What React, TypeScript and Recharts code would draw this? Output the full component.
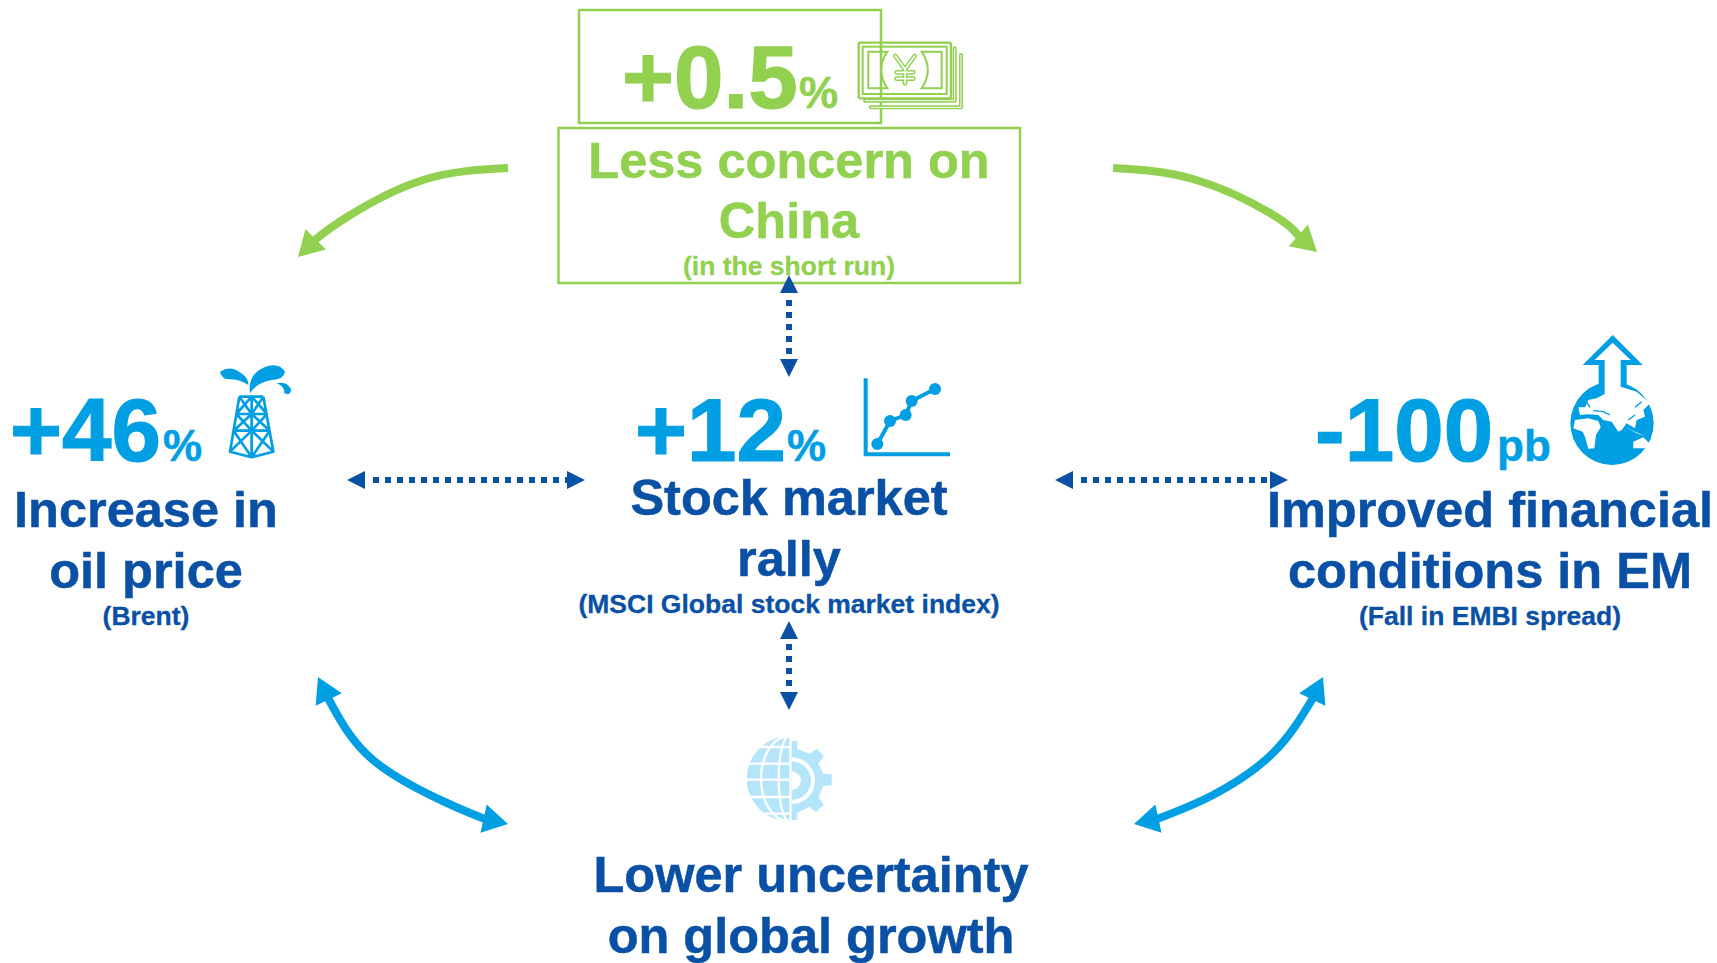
import { ComposedChart, Line, ReferenceArea, Scatter, XAxis, YAxis } from 'recharts'

const WIDTH = 1717
const HEIGHT = 963

const GREEN = '#92d050'
const SKY = '#009fe3'
const NAVY = '#0a50a5'
const PALE = '#b5e5fa'
const FONT = '"Liberation Sans", Arial, sans-serif'

const figures = [
  { text: '+0.5', x: 622, y: 108, tone: GREEN },
  { text: '+46', x: 10, y: 461, tone: SKY },
  { text: '+12', x: 635, y: 461, tone: SKY },
  { text: '-100', x: 1315, y: 461, tone: SKY },
]

const units = [
  { text: '%', x: 799, y: 108, tone: GREEN },
  { text: '%', x: 163, y: 461, tone: SKY },
  { text: '%', x: 787, y: 461, tone: SKY },
  { text: 'pb', x: 1497, y: 461, tone: SKY },
]

const titles = [
  { text: 'Less concern on', x: 789, y: 178, tone: GREEN },
  { text: 'China', x: 789, y: 238, tone: GREEN },
  { text: 'Increase in', x: 146, y: 527, tone: NAVY },
  { text: 'oil price', x: 146, y: 588, tone: NAVY },
  { text: 'Stock market', x: 789, y: 515, tone: NAVY },
  { text: 'rally', x: 789, y: 576, tone: NAVY },
  { text: 'Improved financial', x: 1490, y: 527, tone: NAVY },
  { text: 'conditions in EM', x: 1490, y: 588, tone: NAVY },
  { text: 'Lower uncertainty', x: 811, y: 892, tone: NAVY },
  { text: 'on global growth', x: 811, y: 953, tone: NAVY },
]

const notes = [
  { text: '(in the short run)', x: 789, y: 275, tone: GREEN },
  { text: '(Brent)', x: 146, y: 625, tone: NAVY },
  { text: '(MSCI Global stock market index)', x: 789, y: 613, tone: NAVY },
  { text: '(Fall in EMBI spread)', x: 1490, y: 625, tone: NAVY },
]

const icons = [
  { name: 'yen', x: 840, y: 30 },
  { name: 'oil', x: 0, y: 340 },
  { name: 'stock', x: 570, y: 360 },
  { name: 'globe', x: 1260, y: 320 },
  { name: 'gear', x: 700, y: 722 },
]

const boxes = [
  { x1: 579, x2: 881, y1: 10, y2: 123 },
  { x1: 558.5, x2: 1020, y1: 128, y2: 283 },
]

const stockPoints = [
  [922, 252],
  [960, 183],
  [1007, 165],
  [1025, 123],
  [1095, 87],
]

const greenLeft = [
  { x: 508, y: 168 },
  { x: 423, y: 180 },
  { x: 347, y: 217 },
  { x: 315, y: 240, tipX: 298, tipY: 257 },
]
const greenRight = [
  { x: 1113, y: 168 },
  { x: 1193, y: 179 },
  { x: 1270, y: 213 },
  { x: 1299, y: 236, tipX: 1317, tipY: 252 },
]
const blueLeft = [
  { x: 328, y: 698, tipX: 318, tipY: 677 },
  { x: 373, y: 760 },
  { x: 447, y: 803 },
  { x: 485, y: 819, tipX: 508, tipY: 824 },
]
const blueRight = [
  { x: 1313, y: 698, tipX: 1323, tipY: 677 },
  { x: 1273, y: 753 },
  { x: 1213, y: 795 },
  { x: 1157, y: 819, tipX: 1134, tipY: 824 },
]

const dottedLeft = [
  { x: 373, y: 480, tipX: 347, tipY: 480 },
  { x: 567, y: 480, tipX: 585, tipY: 480 },
]
const dottedRight = [
  { x: 1081, y: 480, tipX: 1055, tipY: 480 },
  { x: 1270, y: 480, tipX: 1288, tipY: 480 },
]
const dottedTop = [
  { x: 789, y: 300, tipX: 789, tipY: 275 },
  { x: 789, y: 360, tipX: 789, tipY: 377 },
]
const dottedBottom = [
  { x: 789, y: 644, tipX: 789, tipY: 621 },
  { x: 789, y: 693, tipX: 789, tipY: 710 },
]

function textShape(size: number, anchor: string, weight: number) {
  return (props: any) => (
    <text
      x={props.cx}
      y={props.cy}
      fontFamily={FONT}
      fontWeight="bold"
      fontSize={size}
      textAnchor={anchor}
      fill={props.payload.tone}
      stroke={props.payload.tone}
      strokeWidth={weight}
    >
      {props.payload.text}
    </text>
  )
}

function arrowHead(color: string, length: number, width: number) {
  return (props: any) => {
    const { cx, cy, index, payload } = props
    if (payload.tipX === undefined) return <g key={index} />
    const dx = payload.tipX - payload.x
    const dy = payload.tipY - payload.y
    const d = Math.hypot(dx, dy)
    const ux = dx / d
    const uy = dy / d
    const tx = cx + dx
    const ty = cy + dy
    const bx = tx - ux * length
    const by = ty - uy * length
    const hw = width / 2
    return (
      <polygon
        key={index}
        points={`${tx},${ty} ${bx - uy * hw},${by + ux * hw} ${bx + uy * hw},${by - ux * hw}`}
        fill={color}
      />
    )
  }
}

// icons are drawn in the 3x units of the crops they were measured on
function YenIcon() {
  return (
    <g fill="none" stroke={GREEN}>
      <rect x={56} y={38} width={277} height={167} rx={6} strokeWidth={7} />
      <rect x={68} y={50} width={252} height={142} strokeWidth={6} />
      <path d="M85,65 H142 Q105,120 142,175 H85 Z" strokeWidth={6} />
      <path d="M305,65 H245 Q282,120 245,175 H305 Z" strokeWidth={6} />
      <path d="M344,55 V212 H75" strokeWidth={12} strokeLinejoin="round" strokeLinecap="round" />
      <path d="M344,55 V212 H75" strokeWidth={3} stroke="#fff" />
      <path d="M363,75 V232 H92" strokeWidth={12} strokeLinejoin="round" strokeLinecap="round" />
      <path d="M363,75 V232 H92" strokeWidth={3} stroke="#fff" />
      <path d="M166,78 L195,118 L224,78 M195,118 V160 M170,127 H220 M170,146 H220" strokeWidth={14} strokeLinecap="round" strokeLinejoin="round" />
      <path d="M166,78 L195,118 L224,78 M195,118 V160 M170,127 H220 M170,146 H220" strokeWidth={5} stroke="#fff" strokeLinecap="round" strokeLinejoin="round" />
    </g>
  )
}

function OilIcon() {
  const lines =
    'M718,170 H790 M709,222 H801 M701,272 H809 ' +
    'M718,170 L690,335 L755,352 L820,335 L790,170 M755,170 V352 ' +
    'M718,170 L755,222 M755,170 L709,222 M755,170 L801,222 M790,170 L755,222 ' +
    'M709,222 L755,272 M755,222 L701,272 M755,222 L809,272 M801,222 L755,272 ' +
    'M701,272 L755,352 M809,272 L755,352 M690,335 L755,272 M820,335 L755,272'
  return (
    <g>
      <path d={lines} fill="none" stroke={SKY} strokeWidth={8} strokeLinejoin="round" />
      <path
        d="M660,95 Q690,74 722,98 Q747,115 745,135 Q720,118 690,118 Q665,118 660,95 Z"
        fill={SKY}
      />
      <path
        d="M750,160 Q742,105 790,83 Q835,64 855,95 Q852,118 815,120 Q770,127 750,160 Z"
        fill={SKY}
      />
      <path d="M830,130 Q862,122 874,150 Q870,168 853,160 Q855,140 830,130 Z" fill={SKY} />
    </g>
  )
}

function StockIcon() {
  return (
    <g>
      <path d="M887,55 V283 H1140" fill="none" stroke={SKY} strokeWidth={12} />
      <polyline
        points={stockPoints.map((p) => p.join(',')).join(' ')}
        fill="none"
        stroke={SKY}
        strokeWidth={12}
      />
      {stockPoints.map((p, i) => (
        <circle key={i} cx={p[0]} cy={p[1]} r={18} fill={SKY} />
      ))}
    </g>
  )
}

function GlobeIcon() {
  return (
    <g>
      <circle cx={1056} cy={310} r={125} fill={SKY} />
      <path
        fill="#fff"
        d="M1082,200 L1130,215 L1170,250 L1150,270 L1155,290 L1130,300 L1125,325 L1100,310 L1085,330 L1075,335 L1055,305 L1030,300 L1015,285 L985,283 L960,285 L955,262 L975,262 L985,240 L1010,235 L1034,222 Z"
      />
      <path
        d="M1000,272 L1030,275 L1050,285 M975,240 L990,262 M1125,262 L1145,245 M1105,300 L1125,285"
        fill="none"
        stroke={SKY}
        strokeWidth={4}
      />
      <path
        fill="#fff"
        d="M945,300 L985,295 L1015,303 L1022,322 L1008,345 L1003,385 L985,386 L975,350 L968,335 L940,325 Z"
      />
      <path fill="#fff" d="M1120,365 L1150,352 L1170,372 L1160,385 L1120,385 Z" />
      <path fill="#fff" d="M1095,320 L1130,340 L1160,350 L1125,335 Z" />
      <path fill={SKY} d="M1058,45 L1148,135 H1100 V200 H1016 V135 H968 Z" />
      <path fill="#fff" d="M1058,68 L1112,120 H1082 V230 H1034 V120 H1004 Z" />
    </g>
  )
}

function GearIcon() {
  return (
    <g>
      <path fill={PALE} d="M268,42 A128,128 0 0 0 268,298 Z" />
      <path
        d="M150,75 H268 M140,125 H268 M135,173 H268 M140,225 H268 M150,275 H268"
        stroke="#fff"
        strokeWidth={7}
        fill="none"
      />
      <path
        d="M268,42 A85,128 0 0 0 268,298 M268,42 A32,128 0 0 0 268,298"
        stroke="#fff"
        strokeWidth={7}
        fill="none"
      />
      <path
        fill={PALE}
        d="M275,57 H292 V82 L330,95 L350,80 L372,103 L355,125 L370,155 L395,157 V190 L370,192 L355,225 L372,248 L348,270 L328,255 L292,272 V295 H275 Z"
      />
      <path d="M275,112 A58,58 0 0 1 275,240" fill="none" stroke="#fff" strokeWidth={12} />
      <path d="M275,148 A28,28 0 0 1 275,204 Z" fill="#fff" />
    </g>
  )
}

const ICON_BY_NAME: Record<string, () => any> = {
  yen: YenIcon,
  oil: OilIcon,
  stock: StockIcon,
  globe: GlobeIcon,
  gear: GearIcon,
}

function iconShape(props: any) {
  const Icon = ICON_BY_NAME[props.payload.name]
  return (
    <g transform={`translate(${props.cx},${props.cy}) scale(${1 / 3})`}>
      <Icon />
    </g>
  )
}

const thickArrows = [
  { id: 'greenLeft', data: greenLeft, color: GREEN },
  { id: 'greenRight', data: greenRight, color: GREEN },
  { id: 'blueLeft', data: blueLeft, color: SKY },
  { id: 'blueRight', data: blueRight, color: SKY },
]

const dottedArrows = [
  { id: 'dottedLeft', data: dottedLeft },
  { id: 'dottedRight', data: dottedRight },
  { id: 'dottedTop', data: dottedTop },
  { id: 'dottedBottom', data: dottedBottom },
]

export default function App() {
  return (
    <div style={{ position: 'absolute', left: 0, top: 0, width: WIDTH, height: HEIGHT, background: '#fff' }}>
      <ComposedChart width={WIDTH} height={HEIGHT} margin={{ top: 0, right: 0, bottom: 0, left: 0 }}>
        <XAxis type="number" dataKey="x" domain={[0, WIDTH]} hide allowDataOverflow />
        <YAxis type="number" dataKey="y" domain={[0, HEIGHT]} reversed hide allowDataOverflow />

        {boxes.map((b, i) => (
          <ReferenceArea
            key={i}
            x1={b.x1}
            x2={b.x2}
            y1={b.y1}
            y2={b.y2}
            fill="none"
            stroke={GREEN}
            strokeWidth={2.5}
            ifOverflow="visible"
          />
        ))}

        {thickArrows.map((a) => (
          <Line
            key={a.id}
            data={a.data}
            dataKey="y"
            type="natural"
            stroke={a.color}
            strokeWidth={8}
            dot={arrowHead(a.color, 25, 29)}
            activeDot={false}
            legendType="none"
            isAnimationActive={false}
          />
        ))}

        {dottedArrows.map((a) => (
          <Line
            key={a.id}
            data={a.data}
            dataKey="y"
            type="linear"
            stroke={NAVY}
            strokeWidth={6}
            strokeDasharray="6 6"
            dot={arrowHead(NAVY, 18, 18)}
            activeDot={false}
            legendType="none"
            isAnimationActive={false}
          />
        ))}

        <Scatter data={icons} shape={iconShape} isAnimationActive={false} />
        <Scatter data={figures} shape={textShape(89, 'start', 1.2)} isAnimationActive={false} />
        <Scatter data={units} shape={textShape(44, 'start', 0.5)} isAnimationActive={false} />
        <Scatter data={titles} shape={textShape(50.5, 'middle', 0.5)} isAnimationActive={false} />
        <Scatter data={notes} shape={textShape(26.5, 'middle', 0.3)} isAnimationActive={false} />
      </ComposedChart>
    </div>
  )
}
